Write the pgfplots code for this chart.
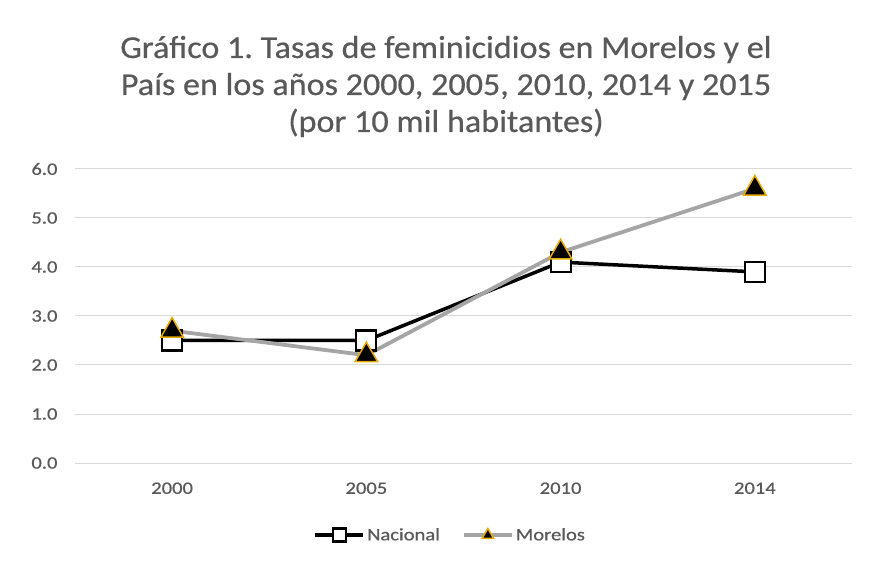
\documentclass[border=0pt]{standalone}
\usepackage{pgfplots}
\pgfplotsset{compat=1.18}
\usepackage{fontspec}
\setmainfont{Carlito}[FakeStretch=1.18, FakeBold=0.6]
\newfontfamily\titlefont{Carlito}[FakeStretch=1.07, FakeBold=0.5]
\definecolor{txt}{RGB}{89,89,89}
\definecolor{gridc}{RGB}{217,217,217}
\definecolor{morelos}{RGB}{165,165,165}
\definecolor{gold}{RGB}{230,170,0}
\frenchspacing
\begin{document}
\begin{tikzpicture}
\begin{axis}[
  name=ax,
  scale only axis,
  width=777bp, height=294bp,
  xmin=-0.5, xmax=3.5,
  ymin=0, ymax=6,
  xtick={0,1,2,3},
  xticklabels={2000,2005,2010,2014},
  ytick={0,1,2,3,4,5,6},
  yticklabel style={/pgf/number format/fixed, /pgf/number format/fixed zerofill, /pgf/number format/precision=1, xshift=-14bp},
  /pgf/number format/assume math mode=true,
  axis line style={draw=none},
  major tick length=0pt,
  ymajorgrids,
  grid style={gridc, line width=1bp},
  tick label style={font=\fontsize{17.5}{20}\selectfont, text=txt},
  xticklabel style={yshift=-16bp},
  clip=false,
  legend columns=2,
  legend style={draw=none, at={(0.483,-0.245)}, anchor=center, font=\fontsize{17.5}{20}\selectfont, text=txt,
    /tikz/every even column/.append style={column sep=20bp}},
  legend image code/.code={\draw[#1] (0bp,0bp) -- (48bp,0bp); \draw[#1,mark repeat=1,mark size=6.5bp] plot coordinates {(24bp,0bp)};},
]
\addplot[black, line width=3.5bp, mark=square*, mark size=10bp, mark options={fill=white, draw=black, line width=2.2bp}]
  coordinates {(0,2.5) (1,2.5) (2,4.1) (3,3.9)};
\addlegendentry{Nacional}
\addplot[morelos, line width=3.8bp, mark=triangle*, mark size=13bp, mark options={fill=black, draw=gold, line width=1.5bp}]
  coordinates {(0,2.7) (1,2.2) (2,4.3) (3,5.6)};
\addlegendentry{Morelos}
\end{axis}
\path[use as bounding box] ([xshift=-75bp,yshift=-105bp]ax.south west) rectangle ([xshift=18bp,yshift=169bp]ax.north east);
\begin{scope}[every node/.style={anchor=base, text=txt, font=\titlefont\fontsize{32}{38}\selectfont}]
\node at ([xshift=371bp,yshift=405bp]ax.south west) {Gráfico 1. Tasas de feminicidios en Morelos y el};
\node at ([xshift=371bp,yshift=368bp]ax.south west) {País en los años 2000, 2005, 2010, 2014 y 2015};
\node at ([xshift=371bp,yshift=331bp]ax.south west) {(por 10 mil habitantes)};
\end{scope}
\end{tikzpicture}
\end{document}
